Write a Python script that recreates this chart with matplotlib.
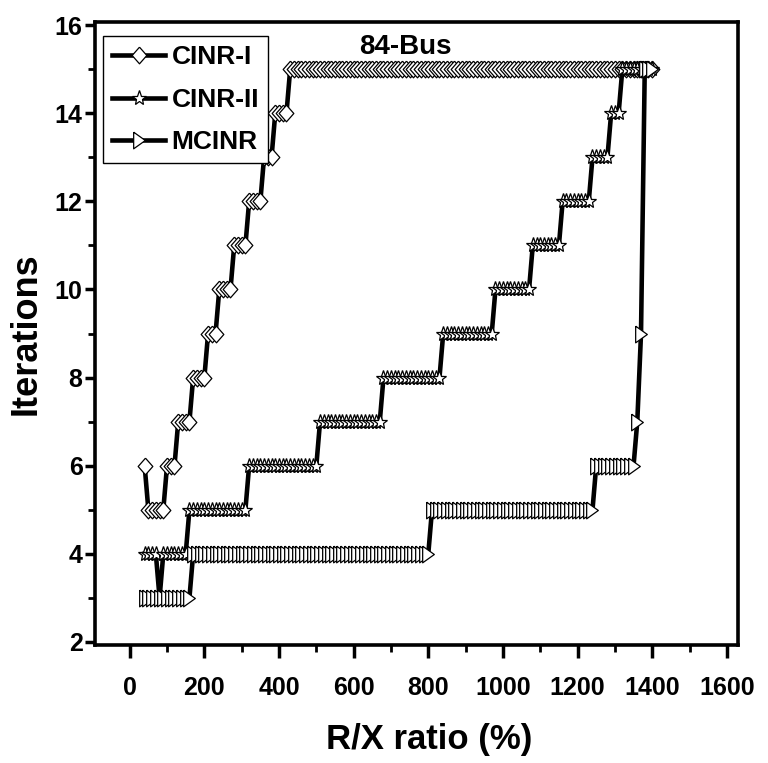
import matplotlib
matplotlib.use("Agg")
import matplotlib.pyplot as plt
import numpy as np
from matplotlib.ticker import MultipleLocator

# Data as runs: (iterations, first R/X, last R/X), sampled every 10 %
cinr1_runs = [(6, 40, 40), (5, 50, 90), (6, 100, 120), (7, 130, 160), (8, 170, 200),
              (9, 210, 230), (10, 240, 270), (11, 280, 310), (12, 320, 350),
              (13, 360, 380), (14, 390, 420), (15, 430, 1400)]
cinr2_runs = [(4, 40, 70), (3, 80, 80), (4, 90, 150), (5, 160, 310), (6, 320, 500),
              (7, 510, 670), (8, 680, 830), (9, 840, 970), (10, 980, 1070),
              (11, 1080, 1150), (12, 1160, 1230), (13, 1240, 1280), (14, 1290, 1310),
              (15, 1320, 1400)]
mcinr_runs = [(3, 40, 160), (4, 170, 800), (5, 810, 1240), (6, 1250, 1350),
              (7, 1360, 1360), (9, 1370, 1370), (15, 1380, 1400)]
labels = ["CINR-I", "CINR-II", "MCINR"]
title = "84-Bus"
xlabel = "R/X ratio (%)"
ylabel = "Iterations"
step = 10


def expand(runs):
    xs, ys = [], []
    for v, a, b in runs:
        for x in range(a, b + 1, step):
            xs.append(x)
            ys.append(v)
    return np.array(xs), np.array(ys)


FONT = ["Liberation Sans", "DejaVu Sans"]
plt.rcParams["font.family"] = FONT
plt.rcParams["font.weight"] = "bold"

fig = plt.figure(figsize=(7.68, 7.63), dpi=100)
ax = fig.add_axes([0.1237, 0.1546, 0.8373, 0.8165])

diamond = [(0, 1), (0.88, 0), (0, -1), (-0.88, 0), (0, 1)]
tri = [(-0.7, 1), (0.7, 0), (-0.7, -1), (-0.7, 1)]
styles = [dict(marker=diamond, markersize=12),
          dict(marker="*", markersize=11),
          dict(marker=tri, markersize=12)]

for runs, lab, st in zip([cinr1_runs, cinr2_runs, mcinr_runs], labels, styles):
    x, y = expand(runs)
    ax.plot(x, y, color="black", lw=3.3, markerfacecolor="white",
            markeredgecolor="black", markeredgewidth=0.9, label=lab, **st)

ax.set_xlim(-93, 1630)
ax.set_ylim(1.93, 16.07)
ax.xaxis.set_major_locator(MultipleLocator(200))
ax.xaxis.set_minor_locator(MultipleLocator(100))
ax.yaxis.set_major_locator(MultipleLocator(2))
ax.yaxis.set_minor_locator(MultipleLocator(1))
ax.tick_params(which="major", direction="out", length=9, width=2.5, labelsize=18, pad=13)
ax.tick_params(which="minor", direction="out", length=5, width=2.0)
ax.tick_params(axis="y", which="major", length=7, pad=2)
for lbl in ax.get_xticklabels() + ax.get_yticklabels():
    lbl.set_fontweight("bold")
for sp in ax.spines.values():
    sp.set_linewidth(2.6)

ax.set_xlabel(xlabel, fontsize=25, fontweight="bold", labelpad=17)
ax.xaxis.label.set_x(0.519)
ax.set_ylabel(ylabel, fontsize=26, fontweight="bold", labelpad=8)
ax.text(0.482, 0.96, title, transform=ax.transAxes, ha="center", va="center",
        fontsize=20, fontweight="bold")

leg = ax.legend(loc="upper left", bbox_to_anchor=(0.0124, 0.9775), borderaxespad=0,
                prop=dict(family=FONT, weight="bold", size=19), fancybox=False,
                edgecolor="black", framealpha=1, handlelength=2.0, numpoints=1,
                labelspacing=0.7, handletextpad=0.25, borderpad=0.35)
leg.get_frame().set_linewidth(1.0)

fig.savefig("out.png", dpi=100)
